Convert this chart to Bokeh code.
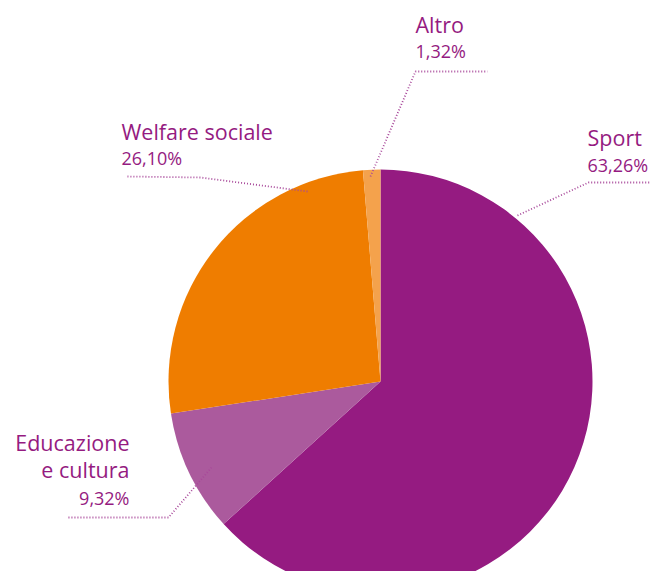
import math
from bokeh.plotting import figure
from bokeh.models import Range1d
from bokeh.core.properties import value
from bokeh.embed import file_html
from bokeh.resources import INLINE

# ---- data ----
categories = ["Sport", "Educazione\ne cultura", "Welfare sociale", "Altro"]
percent_labels = ["63,26%", "9,32%", "26,10%", "1,32%"]
shares = [63.26, 9.32, 26.10, 1.32]
colors = ["#951B81", "#AB5A9D", "#EF7D00", "#F4A24C"]

W, H = 650, 571
p = figure(width=W, height=H, output_backend="svg", toolbar_location=None,
           x_range=Range1d(0, W), y_range=Range1d(0, H), min_border=0)
p.axis.visible = False
p.grid.visible = False
p.outline_line_color = None
p.background_fill_color = None

def pt(sx, sy):
    # reference picture pixel -> data coords
    return sx, H - sy

cx, cy = pt(380, 381)
R = 212

total = sum(shares)
cum = 0.0
starts, ends = [], []
for s in shares:
    a0 = math.pi / 2 - 2 * math.pi * (cum + s) / total
    a1 = math.pi / 2 - 2 * math.pi * cum / total
    starts.append(a0)
    ends.append(a1)
    cum += s

p.wedge(x=[cx] * len(shares), y=[cy] * len(shares), radius=R,
        start_angle=starts, end_angle=ends, direction="anticlock",
        fill_color=colors, line_color=None)

# ---- leader lines (layout) ----
leaders = [
    [(517, 215), (588, 182), (666, 182)],
    [(211, 467), (168, 517), (67, 517)],
    [(307, 191), (200, 177), (127, 176)],
    [(370, 176), (415, 71), (487, 71)],
]
for pts in leaders:
    xs = [pt(*q)[0] for q in pts]
    ys = [pt(*q)[1] for q in pts]
    p.line(xs, ys, line_color="#A8489A", line_width=1.8, line_dash="1 2")

txt_color = "#951B81"
font = value("Open Sans")

# ---- labels (layout) ----
label_pos = [
    (587, 137, "left", [137], 164),
    (129, 442, "right", [442, 469], 497),
    (121, 131, "left", [131], 157),
    (415, 24, "left", [24], 50),
]
for (lx, ly, align, title_ys, pct_y), name, pct in zip(label_pos, categories, percent_labels):
    lines = name.split("\n")
    for line, ty in zip(lines, title_ys):
        x, y = pt(lx, ty)
        p.text(x=[x], y=[y], text=[line], text_font=font, text_font_size="21.5px",
               text_font_style="normal", text_color=txt_color,
               text_align=align, text_baseline="middle")
    x, y = pt(lx, pct_y)
    p.text(x=[x], y=[y], text=[pct], text_font=font, text_font_size="18px",
           text_color=txt_color, text_align=align, text_baseline="middle")

open("out.html", "w").write(file_html(p, INLINE))
